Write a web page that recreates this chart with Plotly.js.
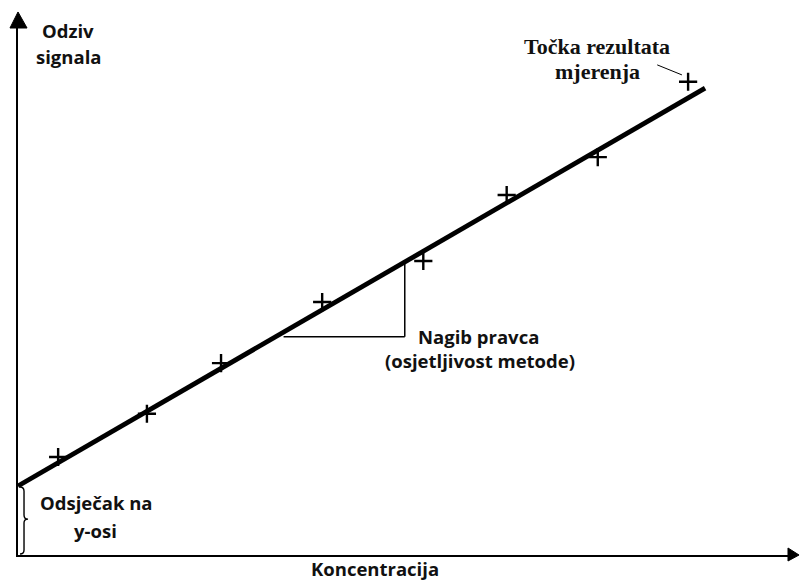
<!DOCTYPE html>
<html>
<head>
<meta charset="utf-8">
<script src="https://cdn.plot.ly/plotly-3.0.1.min.js"></script>
<style>html,body{margin:0;padding:0;background:#fff;}#chart{width:800px;height:583px;}</style>
</head>
<body>
<div id="chart"></div>
<script>
// Measurement points (concentration, signal response)
const pointX = [5.2, 16.7, 26.3, 39.4, 52.5, 63.3, 75.1, 86.8];
const pointY = [18.6, 26.8, 36.4, 48.0, 55.8, 68.3, 75.5, 89.8];
// Calibration line endpoints
const lineX = [0, 89.0];
const lineY = [13.1, 88.6];
// Labels
const labelY = ['Odziv', 'signala'];
const labelX = 'Koncentracija';
const labelSlope = ['Nagib pravca', '(osjetljivost metode)'];
const labelIntercept = ['Odsječak na', 'y-osi'];
const labelPoint = ['Točka rezultata', 'mjerenja'];

const sans = {family: 'Open Sans, sans-serif', size: 18.5, color: '#111', weight: 'bold'};
const serif = {family: 'Liberation Serif, Times New Roman, serif', size: 22, color: '#111', weight: 'bold'};

const traces = [
  {x: lineX, y: lineY, mode: 'lines', line: {color: '#000', width: 4.8}, hoverinfo: 'skip'},
  {x: pointX, y: pointY, mode: 'markers', cliponaxis: false,
   marker: {symbol: 'cross-thin-open', size: 13, color: '#000', line: {color: '#000', width: 2.4}}, hoverinfo: 'skip'}
];

function ann(text, x, y, font, yref) {
  return {text: text, x: x, y: y, xref: 'x', yref: yref || 'y', showarrow: false, font: font, xanchor: 'center', yanchor: 'middle'};
}

const layout = {
  width: 800, height: 583,
  margin: {l: 18, r: 10, t: 28, b: 28},
  paper_bgcolor: '#fff', plot_bgcolor: '#fff',
  showlegend: false,
  xaxis: {range: [0, 100], showline: true, linecolor: '#000', linewidth: 2, showgrid: false, zeroline: false, showticklabels: false, ticks: '', fixedrange: true},
  yaxis: {range: [0, 100], showline: true, linecolor: '#000', linewidth: 2, showgrid: false, zeroline: false, showticklabels: false, ticks: '', fixedrange: true},
  shapes: [
    // y-axis arrowhead
    {type: 'path', xref: 'paper', yref: 'paper', path: 'M -0.0104 1.0 L 0 1.0304 L 0.0117 1.0 Z', fillcolor: '#000', line: {color: '#000', width: 1}},
    // x-axis arrowhead
    {type: 'path', xref: 'paper', yref: 'paper', path: 'M 0.9974 0.0133 L 1.0117 0 L 0.9974 -0.0114 Z', fillcolor: '#000', line: {color: '#000', width: 1}},
    // slope triangle
    {type: 'line', xref: 'x', yref: 'y', x0: 34.4, y0: 41.4, x1: 50.1, y1: 41.4, line: {color: '#000', width: 1.5}},
    {type: 'line', xref: 'x', yref: 'y', x0: 50.1, y0: 41.4, x1: 50.1, y1: 55.2, line: {color: '#000', width: 1.5}},
    // leader line to point
    {type: 'line', xref: 'x', yref: 'y', x0: 82.8, y0: 93.0, x1: 86.0, y1: 91.1, line: {color: '#000', width: 1}},
    // intercept brace
    {type: 'path', xref: 'x', yref: 'y',
     path: 'M 0.26 12.9 Q 0.78 12.9 0.78 12.1 L 0.78 7.6 Q 0.78 6.8 1.3 6.8 Q 0.78 6.8 0.78 6.1 L 0.78 0.95 Q 0.78 0.19 0.26 0.19',
     line: {color: '#000', width: 1.4}}
  ],
  annotations: [
    ann(labelY[0], 6.5, 99.6, sans),
    ann(labelY[1], 6.5, 94.5, sans),
    ann(labelX, 46.2, -0.025, sans, 'paper'),
    ann(labelSlope[0], 59.6, 41.4, sans),
    ann(labelSlope[1], 59.8, 37.0, sans),
    ann(labelIntercept[0], 10.2, 9.9, sans),
    ann(labelIntercept[1], 10.1, 4.7, sans),
    ann(labelPoint[0], 75.0, 96.4, serif),
    ann(labelPoint[1], 75.1, 91.7, serif)
  ]
};

Plotly.newPlot('chart', traces, layout, {displayModeBar: false, staticPlot: true});
</script>
</body>
</html>
